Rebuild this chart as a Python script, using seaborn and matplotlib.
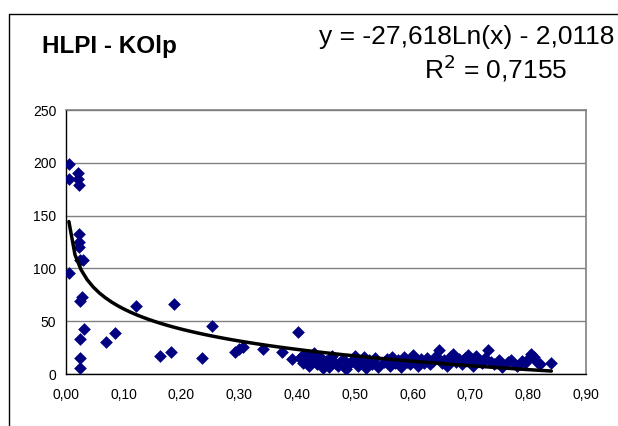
import numpy as np
import pandas as pd
import matplotlib
matplotlib.use("Agg")
import matplotlib.pyplot as plt
from matplotlib.ticker import FuncFormatter
from matplotlib.lines import Line2D
import seaborn as sns

# HLPI values (x) and KOlp values (y)
hlpi = [0.005, 0.005, 0.005, 0.020, 0.021, 0.022, 0.022, 0.023, 0.023, 0.024,
        0.030, 0.027, 0.024, 0.031, 0.024, 0.069, 0.084, 0.024, 0.024, 0.121,
        0.187, 0.163, 0.181, 0.235, 0.253, 0.292, 0.300, 0.307, 0.341, 0.373,
        0.391, 0.402, 0.408, 0.413,
        0.405, 0.410, 0.415, 0.420, 0.425, 0.430, 0.435, 0.440, 0.445, 0.450,
        0.455, 0.460, 0.465, 0.470, 0.480, 0.485, 0.490, 0.495, 0.500, 0.505,
        0.510, 0.515, 0.520, 0.525, 0.530, 0.535, 0.540, 0.550, 0.555, 0.560,
        0.565, 0.570, 0.575, 0.580, 0.585, 0.590, 0.595, 0.600, 0.605, 0.610,
        0.615, 0.620, 0.625, 0.630, 0.635, 0.640, 0.645, 0.650, 0.655, 0.660,
        0.665, 0.670, 0.675, 0.680, 0.685, 0.690, 0.695, 0.700, 0.705, 0.710,
        0.715, 0.720, 0.725, 0.730, 0.735, 0.740, 0.750, 0.755, 0.765, 0.770,
        0.780, 0.790, 0.795, 0.800, 0.805, 0.810, 0.815, 0.820, 0.840]
kolp = [199, 185, 96, 190, 185, 179, 133, 125, 120, 108,
        108, 73, 69, 43, 33, 30, 39, 15, 6, 64,
        66, 17, 20.5, 15, 45, 21, 24, 26, 24, 20.5,
        14, 39.5, 17, 12,
        15, 10, 18, 8, 13, 20, 9, 16, 6, 12,
        7, 17, 10, 8, 14, 5, 9, 12, 17, 8,
        11, 16, 6, 13, 9, 15, 7, 11, 14, 8,
        16, 10, 13, 7, 16, 11, 9, 18, 12, 8,
        14, 10, 15, 9, 12, 17, 23, 10, 13, 8,
        16, 19, 11, 14, 9, 15, 18, 12, 8, 17,
        13, 10, 15, 23, 11, 9, 13, 7, 11, 13,
        8, 12, 10, 14, 19, 16, 11, 9, 10]

# Logarithmic trend: y = a*ln(x) + b
trend_a = -27.618
trend_b = -2.0118
r_squared = 0.7155

title_text = "HLPI - KOlp"
x_ticks = [0.0, 0.1, 0.2, 0.3, 0.4, 0.5, 0.6, 0.7, 0.8, 0.9]
y_ticks = [0, 50, 100, 150, 200, 250]

sns.set_style("white")
plt.rcParams["font.family"] = ["Liberation Sans", "DejaVu Sans"]
plt.rcParams["text.color"] = "black"
plt.rcParams["xtick.color"] = "black"
plt.rcParams["ytick.color"] = "black"
plt.rcParams["axes.labelcolor"] = "black"

fig = plt.figure(figsize=(6.18, 4.26), dpi=100)
ax = fig.add_axes([66 / 618, 52 / 426, 520 / 618, 264 / 426])

df = pd.DataFrame({"HLPI": hlpi, "KOlp": kolp})
sns.scatterplot(data=df, x="HLPI", y="KOlp", marker="D", s=42,
                color="#000080", linewidth=0, ax=ax, zorder=3)

tx = np.linspace(min(hlpi), max(hlpi), 80)
trend = pd.DataFrame({"x": tx, "y": trend_a * np.log(tx) + trend_b})
sns.lineplot(data=trend, x="x", y="y", color="black", linewidth=2.5,
             ax=ax, zorder=4)

ax.set_xlim(0, 0.9)
ax.set_ylim(0, 250)
ax.set_xticks(x_ticks)
ax.set_yticks(y_ticks)
ax.xaxis.set_major_formatter(FuncFormatter(lambda v, p: f"{v:.2f}".replace(".", ",")))
ax.yaxis.set_major_formatter(FuncFormatter(lambda v, p: f"{v:.0f}"))
ax.set_xlabel("")
ax.set_ylabel("")
ax.grid(axis="y", color="#808080", linewidth=1.0)
ax.set_axisbelow(True)
for side in ("top", "right"):
    ax.spines[side].set_color("#808080")
    ax.spines[side].set_linewidth(1.2)
for side in ("left", "bottom"):
    ax.spines[side].set_color("black")
    ax.spines[side].set_linewidth(1.0)
ax.tick_params(axis="both", which="major", direction="out", length=4,
               width=1, color="black", labelcolor="black", labelsize=10, pad=3)
ax.tick_params(axis="x", pad=6)

# Chart-area frame
fig.add_artist(Line2D([9 / 618, 1.0], [1 - 14 / 426, 1 - 14 / 426],
                      transform=fig.transFigure, color="black", linewidth=1))
fig.add_artist(Line2D([9 / 618, 9 / 618], [0, 1 - 14 / 426],
                      transform=fig.transFigure, color="black", linewidth=1))

fig.text(42 / 618, 1 - 46 / 426, title_text, fontsize=17.5, fontweight="bold",
         ha="left", va="center", color="black")
eq = f"y = {trend_a:.3f}Ln(x) - {abs(trend_b):.4f}".replace(".", ",")
fig.text(614 / 618, 1 - 37 / 426, eq, fontsize=19, ha="right", va="center",
         color="black")
fig.text(567 / 618, 1 - 68 / 426, "R$^2$ = " + f"{r_squared:.4f}".replace(".", ","),
         fontsize=19, ha="right", va="center", color="black")

fig.savefig("out.png", dpi=100)
